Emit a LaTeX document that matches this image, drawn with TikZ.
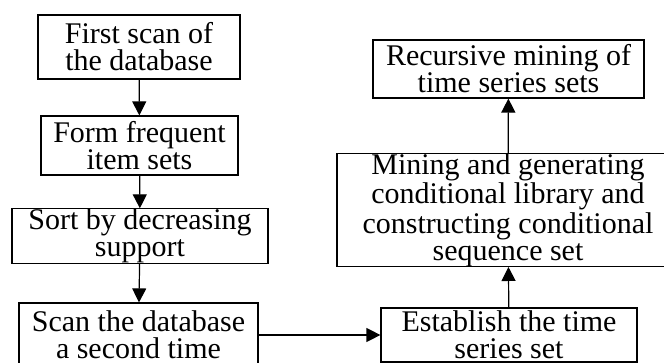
\documentclass[tikz,border=0pt]{standalone}
\usepackage{fontspec}
\setmainfont{Liberation Serif}
\usetikzlibrary{arrows.meta}

\begin{document}
\begin{tikzpicture}[x=0.5pt, y=-0.5pt, >={Triangle[width=7pt,length=7pt]}, line width=0.6pt,
  main/.style = {draw, rectangle, inner sep=0pt, align=center, font=\fontsize{15}{13.5}\selectfont}]
\useasboundingbox (0,0) rectangle (664,363);
\clip (0,0) rectangle (664,363);
\node[main, minimum width=101pt, minimum height=32pt] (0) at (139,47) {First scan of\\the database};
\node[main, minimum width=98.5pt, minimum height=29.5pt] (1) at (139.5,145.5) {Form frequent\\item sets};
\node[main, minimum width=128pt, minimum height=26pt] (2) at (140,236) {Sort by decreasing\\support};
\node[main, minimum width=119.5pt, minimum height=32pt] (3) at (138.5,335) {Scan the database\\a second time};
\node[main, minimum width=128pt, minimum height=27pt] (4) at (509,335) {Establish the time\\series set};
\node[main, minimum width=171pt, minimum height=52pt] (5) at (508,210) {Mining and generating\\conditional library and\\constructing conditional\\sequence set};
\node[main, minimum width=135.5pt, minimum height=29pt] (6) at (508.5,69) {Recursive mining of\\time series sets};
\draw[->] (0) -- (1);
\draw[->] (1) -- (2);
\draw[->] (2) -- (3);
\draw[->] (3) -- (4);
\draw[->] (4) -- (5);
\draw[->] (5) -- (6);
\end{tikzpicture}
\end{document}
